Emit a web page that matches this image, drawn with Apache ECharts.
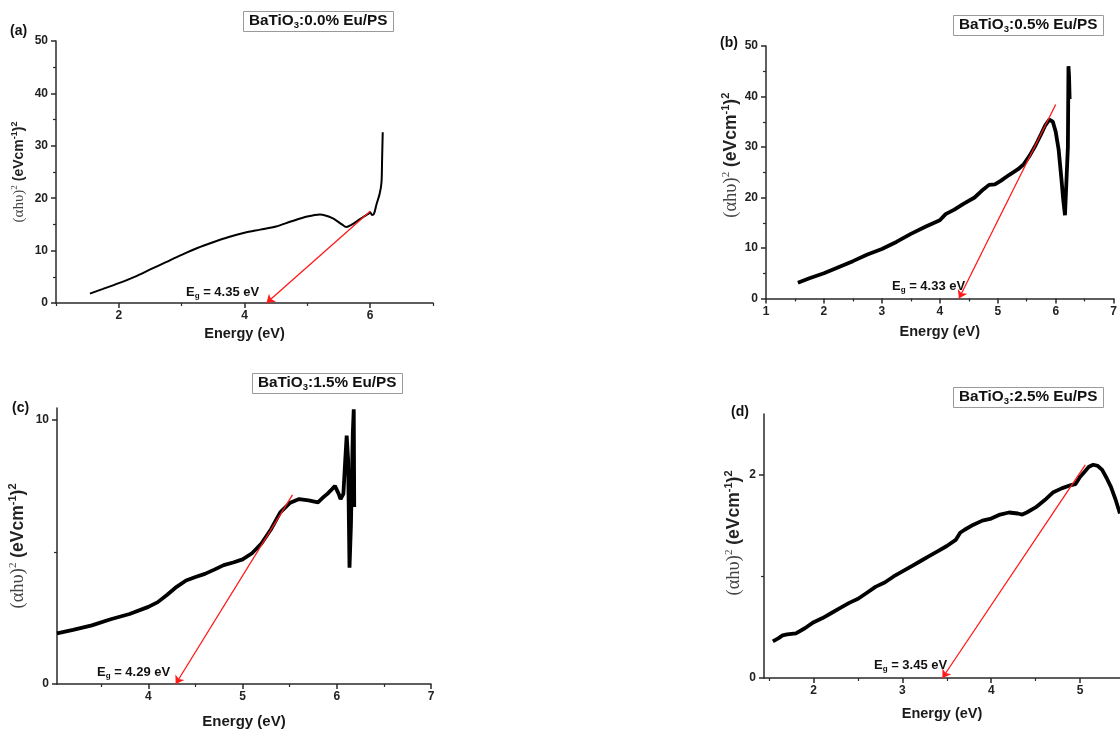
<!DOCTYPE html>
<html><head><meta charset="utf-8">
<script src="https://cdn.jsdelivr.net/npm/echarts@6/dist/echarts.min.js"></script>
<style>html,body{margin:0;padding:0;background:#fff}#c{width:1120px;height:731px}</style>
</head><body><div id="c"></div>
<script>
// ---------- data ----------
const aEnergy = [1.54,1.75,2.0,2.25,2.5,2.75,3.0,3.25,3.5,3.75,4.0,4.25,4.5,4.75,5.0,5.2,5.4,5.55,5.62,5.7,5.8,5.9,5.97,6.0,6.03,6.06,6.1,6.15,6.18,6.19,6.2];
const aSignal = [1.8,2.7,3.8,5.0,6.4,7.8,9.2,10.5,11.6,12.6,13.4,14.0,14.6,15.6,16.5,16.9,16.2,15.0,14.5,14.9,15.7,16.5,17.0,17.3,16.8,17.0,18.8,20.8,23.0,27.5,32.6];
const bEnergy = [1.55,1.75,2.0,2.25,2.5,2.75,3.0,3.25,3.5,3.75,4.0,4.1,4.25,4.4,4.6,4.75,4.85,4.95,5.05,5.2,5.35,5.45,5.55,5.65,5.75,5.82,5.89,5.95,6.0,6.05,6.1,6.13,6.16,6.19,6.21,6.22,6.23,6.24];
const bSignal = [3.1,4.0,5.0,6.2,7.4,8.7,9.8,11.2,12.8,14.2,15.5,16.7,17.6,18.7,20.0,21.6,22.5,22.6,23.3,24.5,25.6,26.6,28.3,30.3,32.6,34.3,35.4,35.0,33.0,29.5,23.5,19.5,16.5,16.2,30.0,46.0,44.0,39.5];
const cEnergy = [3.03,3.2,3.4,3.6,3.8,4.0,4.1,4.2,4.3,4.4,4.5,4.6,4.7,4.8,4.9,5.0,5.1,5.2,5.3,5.4,5.5,5.6,5.7,5.8,5.85,5.9,5.95,5.98,6.02,6.04,6.07,6.09,6.105,6.12,6.135,6.15,6.17,6.18,6.185];
const cSignal = [1.92,2.05,2.22,2.45,2.65,2.92,3.1,3.38,3.68,3.92,4.05,4.17,4.33,4.5,4.6,4.72,4.95,5.32,5.85,6.5,6.85,7.0,6.95,6.88,7.05,7.2,7.38,7.5,7.2,7.0,7.2,8.5,9.4,8.5,4.4,6.0,9.5,10.4,6.7];
const dEnergy = [1.54,1.6,1.65,1.7,1.8,1.9,2.0,2.1,2.2,2.3,2.4,2.5,2.6,2.7,2.8,2.9,3.0,3.1,3.2,3.3,3.4,3.5,3.6,3.65,3.7,3.8,3.9,4.0,4.1,4.2,4.3,4.35,4.4,4.5,4.6,4.7,4.8,4.9,4.95,5.0,5.05,5.1,5.15,5.2,5.25,5.3,5.35,5.4,5.45];
const dSignal = [0.36,0.39,0.42,0.43,0.44,0.49,0.55,0.59,0.64,0.69,0.74,0.78,0.84,0.9,0.94,1.0,1.05,1.1,1.15,1.2,1.25,1.3,1.36,1.43,1.46,1.51,1.55,1.57,1.61,1.63,1.62,1.61,1.63,1.68,1.75,1.83,1.87,1.9,1.91,1.98,2.03,2.08,2.1,2.09,2.05,1.97,1.88,1.76,1.62];

// tangent (Tauc) lines: [upper end, band-gap intercept]
const aFit = [[6.0,17.5],[4.35,0]];
const bFit = [[6.0,38.4],[4.33,0]];
const cFit = [[5.53,7.16],[4.29,0]];
const dFit = [[5.06,2.10],[3.45,0]];

const titles = ['0.0','0.5','1.5','2.5'];
const gaps = ['4.35','4.33','4.29','3.45'];
const panelTags = ['(a)','(b)','(c)','(d)'];

// tick values
const aXTicks=[2,4,6], aXMinor=[1,3,5,7], aYTicks=[0,10,20,30,40,50], aYMinor=[5,15,25,35,45];
const bXTicks=[1,2,3,4,5,6,7], bXMinor=[1.5,2.5,3.5,4.5,5.5,6.5], bYTicks=[0,10,20,30,40,50], bYMinor=[5,15,25,35,45];
const cXTicks=[4,5,6,7], cXMinor=[3.5,4.5,5.5,6.5], cYTicks=[0,10], cYMinor=[5];
const dXTicks=[2,3,4,5], dXMinor=[1.5,2.5,3.5,4.5], dYTicks=[0,2], dYMinor=[1];

// ---------- chart ----------
const FS = 'Liberation Sans, Arial, sans-serif';
const SERIF = 'Liberation Serif, Times New Roman, serif';
const AX = '#2a2a2a';

function xPair(grid, min, max, ticks, minor, nameGap, nameSize) {
  return [{
    type:'value', gridIndex:grid, min, max, position:'bottom',
    name:'Energy (eV)', nameLocation:'middle', nameGap,
    nameTextStyle:{fontFamily:FS, fontWeight:'bold', fontSize:nameSize, color:'#1a1a1a'},
    axisLine:{show:true, onZero:false, lineStyle:{color:AX, width:1.5}},
    axisTick:{show:true, customValues:ticks, length:5, lineStyle:{color:AX, width:1.5}},
    axisLabel:{customValues:ticks, margin:7, fontFamily:FS, fontWeight:'bold', fontSize:12, color:'#222'},
    splitLine:{show:false}
  },{
    type:'value', gridIndex:grid, min, max, position:'bottom', offset:0,
    axisLine:{show:false, onZero:false},
    axisTick:{show:true, customValues:minor, length:3, lineStyle:{color:AX, width:1.2}},
    axisLabel:{show:false}, splitLine:{show:false}
  }];
}
function yName(size, shift) {
  const sup = Math.round(size*0.62);
  return {
    name:'{g|(αhυ)}{gs|2}{b| (eVcm}{bs|-1}{b|)}{bs|2}',
    nameTextStyle:{padding:[0,0,0,shift], rich:{
      g:{fontFamily:SERIF, fontSize:size+1, color:'#444', lineHeight:size+4},
      gs:{fontFamily:SERIF, fontSize:sup, color:'#444', verticalAlign:'top', lineHeight:sup},
      b:{fontFamily:FS, fontWeight:'bold', fontSize:size, color:'#222', lineHeight:size+4},
      bs:{fontFamily:FS, fontWeight:'bold', fontSize:sup, color:'#222', verticalAlign:'top', lineHeight:sup}
    }}
  };
}
function yPair(grid, min, max, ticks, minor, nameGap, nameSize, shift) {
  return [Object.assign({
    type:'value', gridIndex:grid, min, max, position:'left',
    nameLocation:'middle', nameGap,
    axisLine:{show:true, onZero:false, lineStyle:{color:AX, width:1.5}},
    axisTick:{show:true, customValues:ticks, length:5, lineStyle:{color:AX, width:1.5}},
    axisLabel:{customValues:ticks, margin:8, fontFamily:FS, fontWeight:'bold', fontSize:12, color:'#222'},
    splitLine:{show:false}
  }, yName(nameSize, shift)),{
    type:'value', gridIndex:grid, min, max, position:'left', offset:0,
    axisLine:{show:false, onZero:false},
    axisTick:{show:true, customValues:minor, length:3, lineStyle:{color:AX, width:1.2}},
    axisLabel:{show:false}, splitLine:{show:false}
  }];
}

const grids = [
  {left:56, top:41, width:377, height:262},
  {left:766, top:46, width:351, height:252.5},
  {left:57, top:408, width:374, height:276},
  {left:764, top:414, width:359, height:264}
];
const xAxes = [].concat(
  xPair(0, 1, 7, aXTicks, aXMinor, 23, 14.5),
  xPair(1, 1, 7, bXTicks, bXMinor, 26, 14.5),
  xPair(2, 3.03, 7, cXTicks, cXMinor, 30, 15),
  xPair(3, 1.44, 5.451, dXTicks, dXMinor, 28, 14.5)
);
const yAxes = [].concat(
  yPair(0, 0, 50, aYTicks, aYMinor, 28, 14, 0),
  yPair(1, 0, 50, bYTicks, bYMinor, 24, 17.5, 34),
  yPair(2, 0, 10.45, cYTicks, cYMinor, 28, 17.5, 0),
  yPair(3, 0, 2.6, dYTicks, dYMinor, 19, 17.5, 26)
);

const zip = (xs, ys) => xs.map((x,i)=>[x, ys[i]]);
const curves = [[aEnergy,aSignal,2],[bEnergy,bSignal,3.8],[cEnergy,cSignal,3.8],[dEnergy,dSignal,3.8]];
const fits = [aFit,bFit,cFit,dFit];
const series = [];
curves.forEach((c,i)=>{
  series.push({type:'line', xAxisIndex:2*i, yAxisIndex:2*i, data:zip(c[0],c[1]),
    showSymbol:false, symbol:'none', smooth: i===0 ? 0.3 : false,
    lineStyle:{color:'#000', width:c[2]}, z:3});
  series.push({type:'lines', coordinateSystem:'cartesian2d', xAxisIndex:2*i, yAxisIndex:2*i,
    data:[{coords:fits[i]}], symbol:['none','arrow'], symbolSize:8,
    lineStyle:{color:'#ff1a1a', width:1.3, opacity:1}, z:4});
});

const boxPos = [[243,10],[953,14],[252,372],[953,386]];
const tagPos = [[10,24],[720,36],[12,401],[731,405]];
const egPos = [[186,284],[892,278],[97,664],[874,657]];
const titleArr = [];
titles.forEach((t,i)=>{
  titleArr.push({text:'{n|BaTiO}{s|3}{n|:'+t+'% Eu/PS}', left:boxPos[i][0], top:boxPos[i][1],
    borderColor:'#9a9a9a', borderWidth:1, padding:[2,6,2,6],
    textStyle:{rich:{
      n:{fontFamily:FS, fontWeight:'bold', fontSize:15.3, color:'#111', lineHeight:18},
      s:{fontFamily:FS, fontWeight:'bold', fontSize:9.5, color:'#111', verticalAlign:'bottom', lineHeight:10}
    }}});
  titleArr.push({text:panelTags[i], left:tagPos[i][0], top:tagPos[i][1], padding:0,
    textStyle:{fontFamily:FS, fontWeight:'bold', fontSize:14, color:'#111'}});
  titleArr.push({text:'{e|E}{s|g}{e| = '+gaps[i]+' eV}', left:egPos[i][0], top:egPos[i][1], padding:0,
    textStyle:{rich:{
      e:{fontFamily:FS, fontWeight:'bold', fontSize:13, color:'#111', lineHeight:16},
      s:{fontFamily:FS, fontWeight:'bold', fontSize:8, color:'#111', verticalAlign:'bottom', lineHeight:9}
    }}});
});

const chart = echarts.init(document.getElementById('c'), null, {renderer:'canvas'});
chart.setOption({
  animation:false,
  backgroundColor:'#fff',
  title:titleArr,
  grid:grids,
  xAxis:xAxes,
  yAxis:yAxes,
  series
});
</script></body></html>
